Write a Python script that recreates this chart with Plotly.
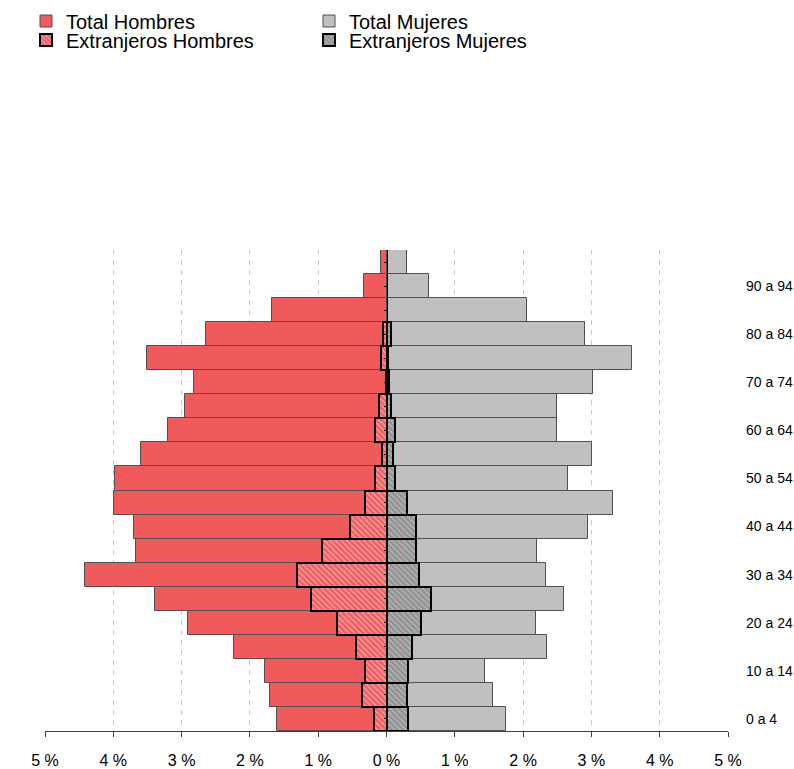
import plotly.graph_objects as go

age_labels = ["0 a 4", "5 a 9", "10 a 14", "15 a 19", "20 a 24", "25 a 29", "30 a 34",
              "35 a 39", "40 a 44", "45 a 49", "50 a 54", "55 a 59", "60 a 64", "65 a 69",
              "70 a 74", "75 a 79", "80 a 84", "85 a 89", "90 a 94", "95 y más"]
tick_labels = ["0 a 4", "10 a 14", "20 a 24", "30 a 34", "40 a 44",
               "50 a 54", "60 a 64", "70 a 74", "80 a 84", "90 a 94"]

total_hombres = [1.61, 1.71, 1.78, 2.24, 2.90, 3.39, 4.42, 3.67, 3.69, 3.99,
                 3.97, 3.60, 3.20, 2.95, 2.82, 3.51, 2.65, 1.68, 0.33, 0.08]
total_mujeres = [1.75, 1.56, 1.44, 2.35, 2.19, 2.60, 2.34, 2.21, 2.95, 3.31,
                 2.66, 3.01, 2.50, 2.50, 3.03, 3.60, 2.91, 2.05, 0.62, 0.30]
ext_hombres = [0.19, 0.36, 0.31, 0.44, 0.73, 1.11, 1.31, 0.95, 0.53, 0.31,
               0.17, 0.07, 0.17, 0.11, 0.01, 0.08, 0.05, None, None, None]
ext_mujeres = [0.32, 0.30, 0.32, 0.38, 0.50, 0.65, 0.48, 0.43, 0.43, 0.30,
               0.13, 0.10, 0.13, 0.06, 0.03, 0.02, 0.06, None, None, None]
x_ticks = [-5, -4, -3, -2, -1, 0, 1, 2, 3, 4, 5]

pos = list(range(len(age_labels)))
RED = "#F05A5A"
GRAY = "#C0C0C0"
FONT = "Liberation Sans, Arial, sans-serif"


def neg(values):
    return [None if v is None else -v for v in values]


fig = go.Figure()
fig.add_trace(go.Bar(
    y=pos, x=neg(total_hombres), orientation="h", width=1,
    name="Total Hombres", legend="legend",
    marker=dict(color=RED, line=dict(color="#505050", width=1)),
    customdata=age_labels, hovertemplate="%{customdata}: %{x}<extra></extra>"))
fig.add_trace(go.Bar(
    y=pos, x=total_mujeres, orientation="h", width=1,
    name="Total Mujeres", legend="legend",
    marker=dict(color=GRAY, line=dict(color="#505050", width=1)),
    customdata=age_labels, hovertemplate="%{customdata}: %{x}<extra></extra>"))
fig.add_trace(go.Bar(
    y=pos, x=neg(ext_hombres), orientation="h", width=1,
    name="Extranjeros Hombres", legend="legend2",
    marker=dict(color=RED, line=dict(color="#000000", width=2),
                pattern=dict(shape="\\", bgcolor=RED, fgcolor="#FFE0E0",
                             size=4, solidity=0.4)),
    customdata=age_labels, hovertemplate="%{customdata}: %{x}<extra></extra>"))
fig.add_trace(go.Bar(
    y=pos, x=ext_mujeres, orientation="h", width=1,
    name="Extranjeros Mujeres", legend="legend2",
    marker=dict(color="#909090", line=dict(color="#000000", width=2),
                pattern=dict(shape="\\", bgcolor="#909090", fgcolor="#D4D4D4",
                             size=4, solidity=0.45)),
    customdata=age_labels, hovertemplate="%{customdata}: %{x}<extra></extra>"))
# helper trace for the centre axis
fig.add_trace(go.Scatter(x=[0], y=[0], yaxis="y2", mode="markers",
                         marker=dict(opacity=0), showlegend=False, hoverinfo="skip"))

legend_common = dict(orientation="h", xref="container", yref="container",
                     xanchor="left", yanchor="middle", entrywidth=238,
                     entrywidthmode="pixels", bgcolor="rgba(0,0,0,0)",
                     font=dict(family=FONT, size=20, color="#000000"),
                     itemwidth=30, tracegroupgap=0)

fig.update_layout(
    width=794, height=769,
    margin=dict(l=45, r=66, t=250, b=38, autoexpand=False),
    paper_bgcolor="white", plot_bgcolor="white",
    barmode="overlay", bargap=0,
    font=dict(family=FONT, color="#000000"),
    legend=dict(**legend_common, x=26 / 794, y=1 - 21 / 769),
    legend2=dict(**legend_common, x=26 / 794, y=1 - 40 / 769),
    xaxis=dict(range=[-5, 5], tickvals=x_ticks,
               ticktext=[f"{abs(v)} %" for v in x_ticks],
               showgrid=True, gridcolor="#C8C8C8", griddash="5px,5px", gridwidth=1,
               zeroline=False, showline=True, linecolor="#404040", linewidth=1,
               ticks="outside", ticklen=5, tickcolor="#404040",
               ticklabelstandoff=10, automargin=False,
               tickfont=dict(family=FONT, size=16, color="#000000"), fixedrange=True),
    yaxis=dict(range=[-0.5, 19.5], side="right", tickvals=pos[::2], ticktext=tick_labels,
               showgrid=False, zeroline=False, showline=False, ticks="",
               ticklabelstandoff=17, automargin=False,
               tickfont=dict(family=FONT, size=14, color="#000000"), fixedrange=True),
    yaxis2=dict(range=[-0.5, 19.5], overlaying="y", anchor="free", position=0.5,
                side="left", showline=True, linecolor="#000000", linewidth=1,
                ticks="outside", ticklen=3, tickcolor="#000000", tickmode="linear",
                tick0=0, dtick=1, showticklabels=False, showgrid=False, zeroline=False,
                automargin=False, fixedrange=True),
)

fig.write_html(
    "out.html",
    config={"displayModeBar": False},
    post_script="document.body.style.margin='0';document.body.style.overflow='hidden';",
)
